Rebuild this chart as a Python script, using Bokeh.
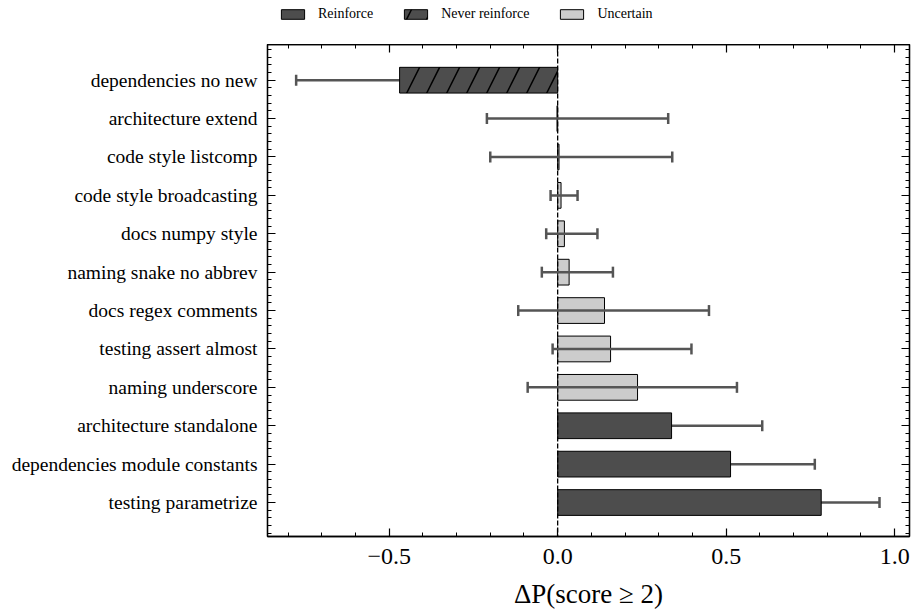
from bokeh.plotting import figure
from bokeh.layouts import column
from bokeh.models import (ColumnDataSource, Range1d, FixedTicker, LinearAxis, Span,
                          Whisker, TeeHead, CustomJSTickFormatter, Legend, LegendItem)
from bokeh.embed import file_html
from bokeh.resources import INLINE

# data, bottom (0) to top (11)
labels = ["testing parametrize", "dependencies module constants", "architecture standalone",
          "naming underscore", "testing assert almost", "docs regex comments",
          "naming snake no abbrev", "docs numpy style", "code style broadcasting",
          "code style listcomp", "architecture extend", "dependencies no new"]
values = [0.782, 0.513, 0.338, 0.237, 0.157, 0.139, 0.034, 0.020, 0.010, 0.004, -0.002, -0.469]
lower = [0.61, 0.263, 0.07, -0.089, -0.015, -0.117, -0.047, -0.034, -0.021, -0.20, -0.21, -0.776]
upper = [0.955, 0.763, 0.607, 0.532, 0.397, 0.449, 0.164, 0.118, 0.059, 0.34, 0.328, -0.17]
status = ["Reinforce", "Reinforce", "Reinforce", "Uncertain", "Uncertain", "Uncertain",
          "Uncertain", "Uncertain", "Uncertain", "Uncertain", "Uncertain", "Never reinforce"]
groups = ["Reinforce", "Never reinforce", "Uncertain"]
x_ticks = [-0.5, 0.0, 0.5, 1.0]

FONT = "Liberation Serif"
DARK = "#4d4d4d"
LIGHT = "#cccccc"
ERR = "#555555"
STYLE = {
    "Reinforce": dict(fill_color=DARK, line_color="black", line_width=1),
    "Never reinforce": dict(fill_color=DARK, line_color="black", line_width=1,
                            hatch_pattern="/", hatch_color="black", hatch_scale=40,
                            hatch_weight=1.5),
    "Uncertain": dict(fill_color=LIGHT, line_color="black", line_width=1),
}

# ---------- main figure ----------
p = figure(width=913, height=567, output_backend="svg", toolbar_location=None,
           x_range=Range1d(-0.861, 1.044), y_range=Range1d(-0.885, 11.93),
           min_border_left=267, min_border_right=4, min_border_top=0, min_border_bottom=75)
p.xgrid.visible = False
p.ygrid.visible = False
p.outline_line_color = "black"
p.outline_line_width = 1.3
p.background_fill_color = "white"
p.border_fill_color = "white"

ys = list(range(len(labels)))
def sub(name):
    idx = [i for i, s in enumerate(status) if s == name]
    return ColumnDataSource(dict(y=[ys[i] for i in idx], v=[values[i] for i in idx]))

sources = {g: sub(g) for g in groups}
for g in groups:
    p.hbar(y="y", right="v", left=0, height=0.67, source=sources[g], **STYLE[g])

p.add_layout(Span(location=0, dimension="height", line_color="black",
                  line_dash="5 2", line_width=1.3, level="overlay"))

def whiskers(light, level):
    idx = [i for i, s in enumerate(status) if (s == "Uncertain") == light]
    src = ColumnDataSource(dict(y=[ys[i] for i in idx], lo=[lower[i] for i in idx],
                                hi=[upper[i] for i in idx]))
    wk = Whisker(base="y", lower="lo", upper="hi", dimension="width", source=src,
                 line_color=ERR, line_width=2.5, level=level,
                 upper_head=TeeHead(size=11, line_color=ERR, line_width=2.5),
                 lower_head=TeeHead(size=11, line_color=ERR, line_width=2.5))
    p.add_layout(wk)

whiskers(True, "overlay")
whiskers(False, "underlay")

xt = FixedTicker(ticks=x_ticks, minor_ticks=[round(-0.8 + 0.1 * i, 2) for i in range(19)])
yt = FixedTicker(ticks=ys, minor_ticks=[round(-0.8 + 0.2 * i, 2) for i in range(64)])

def style(ax):
    ax.axis_line_color = "black"
    ax.axis_line_width = 1.3
    ax.major_tick_in = 8
    ax.major_tick_out = 0
    ax.minor_tick_in = 4
    ax.minor_tick_out = 0
    ax.major_tick_line_color = "black"
    ax.minor_tick_line_color = "black"
    ax.major_tick_line_width = 1.2
    ax.minor_tick_line_width = 1.0

xa = p.xaxis[0]
xa.ticker = xt
style(xa)
xa.formatter = CustomJSTickFormatter(code="return tick.toFixed(1).replace('-', '\\u2212');")
xa.major_label_text_font = FONT
xa.major_label_text_font_size = "24px"
xa.major_label_text_color = "black"
xa.major_label_standoff = 12
xa.axis_label = "ΔP(score ≥ 2)"
xa.axis_label_text_font = FONT
xa.axis_label_text_font_size = "27px"
xa.axis_label_text_font_style = "normal"
xa.axis_label_text_color = "black"
xa.axis_label_standoff = 12

ya = p.yaxis[0]
ya.ticker = yt
style(ya)
ya.major_label_overrides = {i: labels[i] for i in ys}
ya.major_label_text_font = FONT
ya.major_label_text_font_size = "19.5px"
ya.major_label_text_color = "black"
ya.major_label_standoff = 10

top = LinearAxis(ticker=xt, major_label_text_font_size="1px", major_label_text_color=None,
                 major_label_standoff=0)
style(top)
p.add_layout(top, "above")
right = LinearAxis(ticker=yt, major_label_text_font_size="1px", major_label_text_color=None,
                   major_label_standoff=0)
style(right)
p.add_layout(right, "right")

# ---------- legend strip (bars kept outside its visible range) ----------
lf = figure(width=913, height=44, output_backend="svg", toolbar_location=None,
            x_range=Range1d(50, 51), y_range=Range1d(50, 51), x_axis_type=None,
            y_axis_type=None, min_border=0, outline_line_color=None)
lf.xgrid.visible = False
lf.ygrid.visible = False
items = []
for g in groups:
    r = lf.hbar(y="y", right="v", left=0, height=0.67, source=sources[g], **STYLE[g])
    items.append(LegendItem(label=g, renderers=[r]))
legend = Legend(items=items, orientation="horizontal", location=(11, 22),
                glyph_width=29, glyph_height=12, label_standoff=11, spacing=28,
                padding=0, margin=0, border_line_color=None, background_fill_alpha=0,
                label_text_font=FONT, label_text_font_size="14px", label_text_color="black")
lf.add_layout(legend, "center")

open("out.html", "w").write(file_html(column(lf, p), INLINE))
